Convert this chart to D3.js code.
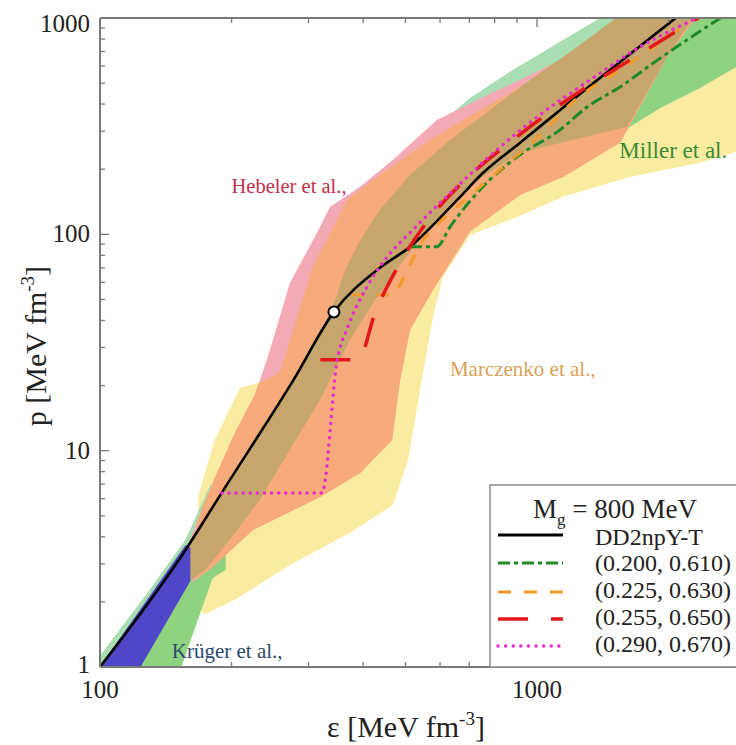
<!DOCTYPE html>
<html><head><meta charset="utf-8">
<script src="https://cdn.jsdelivr.net/npm/d3@7"></script>
<style>
body{margin:0;background:#fff}
svg{display:block}
text{font-family:"Liberation Serif","Times New Roman",serif}
</style>
</head><body>
<svg id="c" width="736" height="745"></svg>
<script>
// ---------- data ----------
const yTickValues = [1, 10, 100, 1000];
const yTickLabels = ["1", "10", "100", "1000"];
const xTickValues = [100, 1000];
const xTickLabels = ["100", "1000"];

// DD2npY-T (hadronic) EoS
const epsBlack = [100, 158, 190, 277, 343, 437, 512, 656, 752, 915, 1130, 2090];
const pBlack   = [1, 3.55, 6.4, 21.2, 43.8, 70, 87.5, 144, 192, 265, 376, 1010];
// transition point marker
const markerEps = 343, markerP = 43.8;

// (0.200, 0.610)
const epsGreen = [512, 590, 632, 752, 900, 1129, 1302, 1549, 1862, 2239, 2651];
const pGreen   = [87.7, 87.7, 108, 166, 228, 304, 388, 480, 627, 809, 1012];
// (0.225, 0.630)
const epsOrange = [377, 466, 499, 540, 600, 684, 823, 1016, 1222, 1549, 2239];
const pOrange   = [52.5, 52.5, 64.9, 89.3, 114, 144, 199, 288, 418, 575, 959];
// (0.255, 0.650)
const epsRed = [295, 390, 426, 486, 569, 692, 881, 1111, 1632, 2360];
const pRed   = [26.3, 26.3, 43.3, 73.8, 119, 182, 273, 388, 640, 1012];
// (0.290, 0.670)
const epsPink = [190, 322, 349, 369, 408, 454, 520, 656, 810, 1016, 1322, 1721, 2360];
const pPink   = [6.37, 6.37, 26.3, 37.3, 57.1, 78.6, 105, 166, 246, 357, 517, 735, 1012];

// constraint bands, [eps, p] vertices
const marczenkoBand = [[165,1.93],[168,6.24],[183,11.2],[209,19.5],[235,20.8],[258,22.9],[307,70.7],[368,144],[437,188],[569,273],[741,376],[1016,546],[1394,792],[1814,1090],[2016,1213],
  [3240,1213],[3240,259],[2360,214],[1632,184],[1147,149],[900,120],[703,99.4],[609,63.5],[578,41.5],[540,19.1],[507,9.06],[468,5.61],[373,4.16],[272,2.96],[204,2.05],[174,1.75]];
const hebelerBand = [[158,3.55],[169,5.04],[183,7.48],[204,12.2],[226,18.1],[241,26.3],[272,59.6],[314,102],[336,134],[394,166],[468,221],[590,338],[729,418],[914,517],[1190,675],[1549,929],[1814,1150],
  [2424,1150],[1984,661],[1632,320],[1549,265],[1147,184],[914,152],[703,103],[578,55.3],[512,36.1],[486,21.2],[466,11.2],[394,7.89],[319,6.11],[224,4.30],[181,2.90],[163,2.47]];
const overlapBand = [[157,3.40],[190,6.37],[232,12.5],[277,21.2],[319,34.3],[345,49.7],[364,68.5],[394,94.2],[437,130],[512,188],[632,273],[781,376],[964,517],[1254,751],[1549,1034],[1721,1213],
  [2424,1213],[1984,661],[1607,314],[914,238],[703,169],[600,123],[540,94.2],[486,72.2],[426,49.7],[373,32.5],[319,17.2],[272,10.1],[232,5.92],[198,3.87],[174,2.81],[162,2.53]];
const millerBandLow = [[94,0.948],[130,2.27],[157,3.87],[179,6.94],[194,7.17],[194,2.81],[181,2.58],[152,0.948]];
const millerEdgeLow = [[94,0.948],[130,2.27],[157,3.87],[179,6.94],[190,6.4],[158,3.55],[100,1],[100,0.948]];
const millerBandHigh = [[540,273],[703,427],[867,564],[1129,776],[1394,1001],[1549,1213],[3240,1213],[3240,627],[2854,594],[2360,475],[1912,384],[1632,314],[1394,246],[1016,199]];
const krugerBand = [[98,0.95],[157,3.66],[161,3.55],[161,2.5],[122,0.95]];

const legendLabels = ["DD2npY-T", "(0.200, 0.610)", "(0.225, 0.630)", "(0.255, 0.650)", "(0.290, 0.670)"];

// ---------- layout ----------
const L = 100, T = 18, B = 667;
const decX = 437;
const x = d3.scaleLog().domain([100, 3000]).range([L, L + decX * Math.log10(30)]);
const y = d3.scaleLog().domain([1, 1000]).range([B, T]);
const R = x(3000);

const svg = d3.select("#c");
const defs = svg.append("defs");
defs.append("clipPath").attr("id", "plotClip").append("rect")
  .attr("x", L).attr("y", T).attr("width", R - L).attr("height", B - T);

const poly = d3.line().x(d => x(d[0])).y(d => y(d[1]));
const polyPath = pts => poly(pts) + "Z";
defs.append("clipPath").attr("id", "yClip").append("path").attr("d", polyPath(marczenkoBand));

const plot = svg.append("g").attr("clip-path", "url(#plotClip)");

const cYellow = "#f9eca0", cGreen = "#8fd27f", cTeal = "#a9ddb2", cPink = "#f4aab4",
      cOrange = "#f7ab7a", cOlive = "#c6a66c", cBlue = "#5047c8";

plot.append("path").attr("d", polyPath(marczenkoBand)).attr("fill", cYellow);
plot.append("path").attr("d", polyPath(millerBandLow)).attr("fill", cGreen);
plot.append("path").attr("d", polyPath(millerEdgeLow)).attr("fill", cTeal);
plot.append("path").attr("d", polyPath(millerBandHigh)).attr("fill", cTeal);
plot.append("g").attr("clip-path", "url(#yClip)")
  .append("path").attr("d", polyPath(millerBandHigh)).attr("fill", cGreen);
plot.append("path").attr("d", polyPath(hebelerBand)).attr("fill", cPink);
plot.append("g").attr("clip-path", "url(#yClip)")
  .append("path").attr("d", polyPath(hebelerBand)).attr("fill", cOrange);
plot.append("path").attr("d", polyPath(overlapBand)).attr("fill", cOlive);
plot.append("path").attr("d", polyPath(krugerBand)).attr("fill", cBlue);

// lines
const curve = (es, ps) => d3.line().curve(d3.curveMonotoneX)
  .x((d, i) => x(es[i])).y((d, i) => y(ps[i]))(es);
plot.append("path").attr("d", curve(epsBlack, pBlack)).attr("fill", "none")
  .attr("stroke", "#000").attr("stroke-width", 2.6);
plot.append("path").attr("d", curve(epsGreen, pGreen)).attr("fill", "none")
  .attr("stroke", "#1e8a2a").attr("stroke-width", 3).attr("stroke-dasharray", "12,4,4,4");
plot.append("path").attr("d", curve(epsOrange, pOrange)).attr("fill", "none")
  .attr("stroke", "#f29a2c").attr("stroke-width", 3).attr("stroke-dasharray", "12,13");
plot.append("path").attr("d", curve(epsRed, pRed)).attr("fill", "none")
  .attr("stroke", "#e3181c").attr("stroke-width", 3.6).attr("stroke-dasharray", "30,23").attr("stroke-dashoffset", 38);
plot.append("path").attr("d", curve(epsPink, pPink)).attr("fill", "none")
  .attr("stroke", "#e82ad0").attr("stroke-width", 3.4).attr("stroke-linecap", "round").attr("stroke-dasharray", "0.1,7");

plot.append("circle").attr("cx", x(markerEps)).attr("cy", y(markerP)).attr("r", 5.5)
  .attr("fill", "#fff").attr("stroke", "#000").attr("stroke-width", 2);

// band labels
const lab = (t, e, p, c, fs) => svg.append("text").attr("x", x(e)).attr("y", y(p)).attr("fill", c)
  .attr("font-size", fs).text(t);
lab("Hebeler et al.,", 200, 156, "#c3304b", 20.5);
lab("Miller et al.", 1543, 225, "#3b8a36", 23);
lab("Marczenko et al.,", 632, 22.1, "#d9a258", 21);
lab("Krüger et al.,", 146, 1.1, "#2b4a6c", 21);

// ---------- axes ----------
const axisCol = "#7a7a7a";
const ax = svg.append("g");
ax.append("line").attr("x1", L).attr("x2", L).attr("y1", T).attr("y2", B).attr("stroke", axisCol).attr("stroke-width", 2);
ax.append("line").attr("x1", L).attr("x2", 736).attr("y1", B).attr("y2", B).attr("stroke", axisCol).attr("stroke-width", 2);
ax.append("line").attr("x1", L).attr("x2", 736).attr("y1", T).attr("y2", T).attr("stroke", axisCol).attr("stroke-width", 2);

const isMajor = v => Math.abs(Math.log10(v) - Math.round(Math.log10(v))) < 1e-9;
y.ticks().forEach(v => {
  const len = isMajor(v) ? 9 : 5;
  ax.append("line").attr("x1", L).attr("x2", L + len).attr("y1", y(v)).attr("y2", y(v))
    .attr("stroke", axisCol).attr("stroke-width", 1.3);
});
x.ticks().forEach(v => {
  const len = isMajor(v) ? 9 : 5;
  ax.append("line").attr("x1", x(v)).attr("x2", x(v)).attr("y1", B).attr("y2", B - len)
    .attr("stroke", axisCol).attr("stroke-width", 1.3);
  ax.append("line").attr("x1", x(v)).attr("x2", x(v)).attr("y1", T).attr("y2", T + len)
    .attr("stroke", axisCol).attr("stroke-width", 1.3);
});

yTickValues.forEach((v, i) => {
  ax.append("text").attr("x", L - 10).attr("y", y(v) + (v === 1000 ? 14 : (v === 1 ? 6 : 8))).attr("text-anchor", "end")
    .attr("font-size", 25).attr("fill", "#222").text(yTickLabels[i]);
});
xTickValues.forEach((v, i) => {
  ax.append("text").attr("x", x(v)).attr("y", B + 31).attr("text-anchor", "middle")
    .attr("font-size", 25).attr("fill", "#222").text(xTickLabels[i]);
});

// axis titles
const yt = svg.append("text").attr("transform", "translate(46,346) rotate(-90)")
  .attr("text-anchor", "middle").attr("font-size", 30).attr("fill", "#222");
yt.append("tspan").text("p [MeV fm");
yt.append("tspan").attr("dy", -12).attr("font-size", 19).text("-3");
yt.append("tspan").attr("dy", 12).text("]");

const xt = svg.append("text").attr("x", 406).attr("y", 737)
  .attr("text-anchor", "middle").attr("font-size", 30).attr("fill", "#222");
xt.append("tspan").text("\u03b5 [MeV fm");
xt.append("tspan").attr("dy", -12).attr("font-size", 19).text("-3");
xt.append("tspan").attr("dy", 12).text("]");

// ---------- legend ----------
const lg = svg.append("g");
lg.append("rect").attr("x", 490).attr("y", 485).attr("width", 260).attr("height", B - 485)
  .attr("fill", "#fff").attr("stroke", "#8a8a8a").attr("stroke-width", 1.5);
const ttl = lg.append("text").attr("x", 533).attr("y", 518).attr("font-size", 27).attr("fill", "#222");
ttl.append("tspan").text("M");
ttl.append("tspan").attr("dy", 7).attr("font-size", 17).text("g");
ttl.append("tspan").attr("dy", -7).text(" = 800 MeV");

const legStyles = [
  {c: "#000", w: 2.8, d: null, cap: "butt"},
  {c: "#1e8a2a", w: 3, d: "12,4,4,4", cap: "butt"},
  {c: "#f29a2c", w: 3, d: "13,13", cap: "butt"},
  {c: "#e3181c", w: 3.6, d: "30,23", cap: "butt"},
  {c: "#e82ad0", w: 3.4, d: "0.1,7.5", cap: "round"}
];
const rowY = [535, 563, 592, 619, 646];
const rowText = [545, 571, 598, 625, 652];
legendLabels.forEach((t, i) => {
  const s = legStyles[i];
  const ln = lg.append("line").attr("x1", 498).attr("x2", 563).attr("y1", rowY[i]).attr("y2", rowY[i])
    .attr("stroke", s.c).attr("stroke-width", s.w).attr("stroke-linecap", s.cap);
  if (s.d) ln.attr("stroke-dasharray", s.d);
  lg.append("text").attr("x", 595).attr("y", rowText[i]).attr("font-size", 24).attr("fill", "#222").text(t);
});
</script>
</body></html>
